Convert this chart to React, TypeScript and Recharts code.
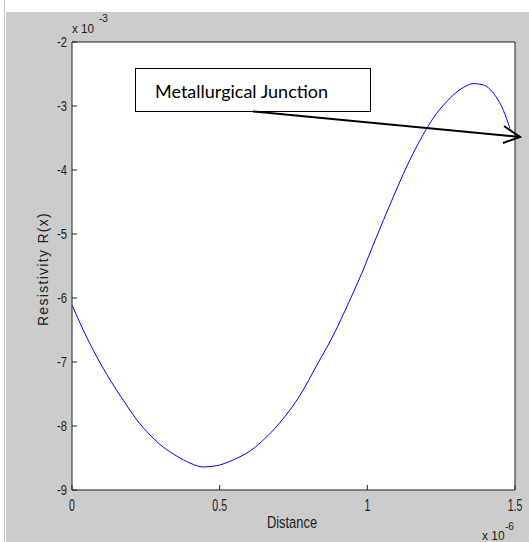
import React from 'react';
import { LineChart, Line, XAxis, YAxis, CartesianGrid } from 'recharts';

// Distance in units of 1e-6, resistivity in units of 1e-3
const distance = [0, 0.038, 0.084, 0.129, 0.174, 0.219, 0.264, 0.309, 0.355, 0.4, 0.445, 0.49, 0.546, 0.603, 0.659, 0.716, 0.772, 0.829, 0.885, 0.941, 0.986, 1.02, 1.054, 1.088, 1.122, 1.156, 1.19, 1.223, 1.269, 1.325, 1.359, 1.393, 1.427, 1.455, 1.477, 1.483];
const resistivity = [-6.11, -6.5, -6.92, -7.28, -7.6, -7.9, -8.14, -8.33, -8.47, -8.58, -8.64, -8.62, -8.53, -8.39, -8.17, -7.88, -7.52, -7.05, -6.58, -6.03, -5.56, -5.17, -4.79, -4.42, -4.06, -3.73, -3.44, -3.19, -2.93, -2.71, -2.65, -2.67, -2.8, -3.01, -3.27, -3.35];
const xTicks = [0, 0.5, 1, 1.5];
const yTicks = [-9, -8, -7, -6, -5, -4, -3, -2];
const xLabel = 'Distance';
const yLabel = 'Resistivity R(x)';
const annotationText = 'Metallurgical Junction';

const data = distance.map((d, i) => ({ d, r: resistivity[i] }));

const sans = "'Liberation Sans', Arial, sans-serif";
const axisColor = '#222222';

const XTick = (props: any) => {
  const { x, y, payload } = props;
  return (
    <text
      transform={`translate(${x},${y}) scale(0.62,1)`}
      textAnchor="middle"
      dy="0.71em"
      fontSize={17}
      fontFamily={sans}
      fill="#222"
    >
      {String(payload.value)}
    </text>
  );
};

const YTick = (props: any) => {
  const { x, y, payload } = props;
  return (
    <text
      transform={`translate(${x},${y}) scale(0.8,1)`}
      textAnchor="end"
      dy="0.355em"
      fontSize={14}
      fontFamily={sans}
      fill="#222"
    >
      {String(payload.value)}
    </text>
  );
};

export default function App() {
  return (
    <div style={{ position: 'absolute', left: 0, top: 0, width: 529, height: 542, background: '#ffffff', overflow: 'hidden' }}>
      <div style={{ position: 'absolute', left: 4, top: 0, width: 1, height: 542, background: '#c4c4c4' }} />
      <div style={{ position: 'absolute', left: 6, top: 12, width: 523, height: 530, background: '#cccccc' }} />
      <div style={{ position: 'absolute', left: 0, top: 0 }}>
        <LineChart width={529} height={542} data={data} margin={{ top: 30, right: 0, bottom: 22, left: 42 }}>
          <CartesianGrid horizontal={false} vertical={false} fill="#ffffff" />
          <XAxis
            dataKey="d"
            type="number"
            domain={[0, 1.5]}
            ticks={xTicks}
            height={30}
            tickSize={-5}
            tickMargin={14}
            stroke={axisColor}
            tick={<XTick />}
          />
          <XAxis
            xAxisId="top"
            orientation="top"
            dataKey="d"
            type="number"
            domain={[0, 1.5]}
            ticks={xTicks}
            height={12}
            tickSize={-5}
            tick={false}
            stroke={axisColor}
          />
          <YAxis
            type="number"
            domain={[-9, -2]}
            ticks={yTicks}
            width={30}
            tickSize={-5}
            tickMargin={10}
            stroke={axisColor}
            tick={<YTick />}
          />
          <YAxis
            yAxisId="right"
            orientation="right"
            type="number"
            domain={[-9, -2]}
            ticks={yTicks}
            width={14}
            tickSize={-5}
            tick={false}
            stroke={axisColor}
          />
          <Line
            dataKey="r"
            type="monotone"
            stroke="#0000ff"
            strokeWidth={1}
            dot={false}
            isAnimationActive={false}
          />
        </LineChart>
      </div>
      <svg width={529} height={542} style={{ position: 'absolute', left: 0, top: 0, pointerEvents: 'none' }}>
        <text x={72} y={33} fontSize={13} fontFamily={sans} fill="#222" transform="translate(72,0) scale(0.9,1) translate(-72,0)">x 10</text>
        <text x={99} y={22} fontSize={10} fontFamily={sans} fill="#222">-3</text>
        <text x={482} y={540} fontSize={12} fontFamily={sans} fill="#222">x 10</text>
        <text x={505} y={530} fontSize={10} fontFamily={sans} fill="#222">-6</text>
        <text x={0} y={0} fontSize={17} fontFamily={sans} fill="#222" textAnchor="middle" transform="translate(292,528) scale(0.76,1)">{xLabel}</text>
        <text x={48} y={269} fontSize={14} fontFamily={sans} fill="#222" textAnchor="middle" letterSpacing={1.3} transform="rotate(-90 48 269)">{yLabel}</text>
        <rect x={135.5} y={68.5} width={235} height={43} fill="#ffffff" stroke="#000" strokeWidth={1} />
        <text x={155} y={98} fontSize={18} fontFamily="Lato, 'Open Sans', sans-serif" fill="#000">{annotationText}</text>
        <line x1={253} y1={111.5} x2={520} y2={137} stroke="#000" strokeWidth={2} />
        <polyline points="504,126 520,137 503,143" fill="none" stroke="#000" strokeWidth={2} />
      </svg>
    </div>
  );
}
